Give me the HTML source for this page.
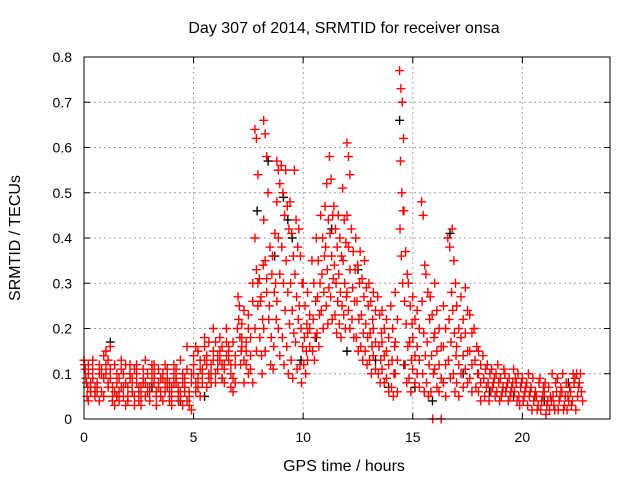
<!DOCTYPE html>
<html><head><meta charset="utf-8"><style>
html,body{margin:0;padding:0;background:#fff;}
svg{display:block;font-family:"Liberation Sans",sans-serif;}
</style></head><body>
<svg id="chart" width="640" height="480" viewBox="0 0 640 480">
<text x="344" y="33" text-anchor="middle" font-size="16">Day 307 of 2014, SRMTID for receiver onsa</text>
<text x="344" y="471" text-anchor="middle" font-size="16">GPS time / hours</text>
<text transform="translate(20,238) rotate(-90)" text-anchor="middle" font-size="16">SRMTID / TECUs</text>
<g id="grid"></g>
<g id="ticks"></g>
<g id="black"></g>
<g id="red"></g>
<rect x="84" y="57" width="526" height="362" fill="none" stroke="#000" stroke-width="1"/>
</svg>
<script>
const xTicks=[0,5,10,15,20];
const yTicks=[0,0.1,0.2,0.3,0.4,0.5,0.6,0.7,0.8];
const yTickLabels=["0","0.1","0.2","0.3","0.4","0.5","0.6","0.7","0.8"];
const slotStep=0.2;
const redVals=[
[.13,.09,.07,.11,.05,.12,.08],[.10,.06,.04,.08,.12,.07],[.09,.05,.13,.07,.11,.06],[.08,.04,.06,.10,.07,.12],[.10,.14,.06,.09,.11,.05],
[.12,.08,.15,.07,.10,.13],[.09,.05,.11,.07,.16,.04],[.06,.10,.03,.08,.12,.05],[.09,.07,.04,.11,.06,.13],[.05,.08,.10,.03,.07,.12],
[.07,.10,.05,.09,.04,.12],[.06,.11,.08,.03,.09,.05],[.10,.06,.08,.04,.12,.07],[.05,.09,.07,.11,.03,.08],[.08,.10,.05,.07,.13,.06],
[.06,.09,.04,.11,.07,.12],[.10,.05,.08,.06,.12,.03],[.07,.09,.11,.05,.08,.06],[.04,.08,.10,.06,.09,.12],[.09,.06,.11,.04,.07,.08],
[.05,.10,.07,.12,.03,.08],[.08,.06,.11,.04,.09,.07],[.06,.10,.05,.08,.13,.03],[.09,.04,.07,.11,.06,.16],[.05,.08,.03,.10,.06,.02],
[.12,.08,.14,.06,.10,.16],[.09,.13,.07,.11,.15,.05],[.11,.16,.08,.13,.10,.18],[.14,.09,.12,.17,.07,.10],[.12,.15,.10,.20,.08,.13],
[.10,.14,.17,.11,.08,.13],[.15,.12,.18,.09,.13,.16],[.11,.14,.08,.17,.12,.20],[.13,.10,.16,.07,.15,.12],[.09,.14,.06,.12,.17,.08],
[.20,.25,.15,.22,.12,.27,.18],[.18,.13,.21,.08,.16,.24],[.12,.20,.15,.10,.17,.23],[.14,.30,.11,.26,.18,.08],[.64,.62,.54,.40,.33,.25,.20,.15,.30],
[.31,.27,.22,.18,.14,.34,.26,.10],[.66,.63,.58,.44,.35,.28,.20,.15,.31],[.50,.38,.32,.25,.18,.22,.12],[.36,.28,.22,.16,.30,.11,.41],[.57,.55,.52,.48,.40,.32,.26,.20,.14],
[.56,.50,.45,.38,.30,.24,.18,.12],[.55,.47,.42,.35,.28,.21,.16,.10],[.48,.41,.36,.30,.24,.19,.13,.09],[.55,.44,.38,.32,.27,.22,.17,.11],[.42,.36,.30,.25,.20,.16,.12,.08],
[.30,.25,.21,.18,.15,.12,.10],[.28,.23,.19,.16,.13,.20],[.35,.30,.26,.22,.18,.15,.13],[.40,.35,.30,.27,.23,.19,.16],[.45,.40,.36,.32,.28,.24,.20],
[.47,.52,.44,.38,.33,.29,.25,.21],[.58,.53,.45,.41,.36,.31,.27,.22],[.47,.42,.38,.34,.30,.26,.23,.19],[.45,.40,.36,.32,.28,.25,.21,.18],[.51,.44,.39,.35,.30,.27,.23,.20],
[.61,.58,.54,.45,.38,.33,.28,.24,.20],[.42,.37,.33,.29,.26,.22,.18],[.40,.34,.30,.26,.22,.18,.15],[.37,.31,.27,.23,.19,.16,.13],[.35,.29,.25,.21,.18,.15,.12],
[.30,.26,.22,.19,.16,.13,.10],[.28,.24,.20,.17,.14,.11],[.27,.23,.19,.16,.13,.10,.08],[.24,.20,.17,.14,.11,.08],[.22,.18,.15,.12,.09,.06],
[.25,.20,.16,.13,.10,.07,.05],[.28,.22,.17,.13,.10,.06],[.77,.73,.70,.62,.57,.50,.46,.42,.36,.30],[.46,.37,.32,.26,.21,.16,.12,.08],[.30,.25,.21,.17,.13,.09,.06],
[.27,.22,.18,.14,.11,.08],[.24,.20,.16,.13,.10,.07],[.48,.45,.34,.26,.19,.14,.10,.06],[.32,.28,.22,.17,.12,.08,.05],[.27,.23,.18,.14,.10,.06,0],
[.30,.24,.19,.15,.11,.07],[.20,.16,.12,.09,.06,0],[.25,.20,.16,.12,.08,.05],[.40,.38,.28,.22,.17,.13,.09],[.42,.35,.30,.24,.19,.14,.10,.06],
[.25,.20,.16,.12,.08,.05],[.27,.22,.18,.14,.10,.07],[.29,.24,.19,.15,.11,.08],[.23,.19,.15,.12,.09,.06],[.20,.16,.13,.10,.07],
[.15,.12,.10,.08,.06,.04],[.14,.11,.09,.07,.05],[.12,.10,.08,.06,.04],[.11,.09,.07,.05,.08],[.10,.08,.06,.04,.12],
[.09,.07,.05,.11,.06],[.10,.08,.06,.04,.07],[.09,.07,.05,.08,.06],[.11,.08,.06,.04,.09],[.10,.07,.05,.08,.03],
[.09,.06,.04,.07,.05],[.08,.05,.03,.06,.10],[.07,.04,.02,.05,.09],[.06,.03,.05,.08,.02],[.09,.05,.02,.07,.04],
[.06,.03,.08,.04,.01],[.07,.04,.02,.10,.05],[.05,.08,.03,.06,.02],[.09,.05,.02,.07,.04],[.06,.03,.10,.05,.02],
[.08,.04,.02,.07,.05],[.06,.10,.03,.08,.04],[.09,.05,.02,.07,.10],[.08,.04,.06,.10]
];
const blackT=[0.3,1.2,1.5,3.1,4.4,5.5,6.3,7.9,8.4,8.7,9.1,9.3,9.5,9.9,10.6,11.3,12.0,12.5,13.3,13.9,14.4,14.6,15.1,15.9,16.4,16.7,17.3,18.5,19.6,21.0,22.1];
const blackV=[0.06,0.17,0.05,0.07,0.04,0.05,0.09,0.46,0.57,0.36,0.49,0.44,0.40,0.13,0.18,0.42,0.15,0.33,0.13,0.07,0.66,0.12,0.07,0.04,0.08,0.41,0.10,0.06,0.05,0.04,0.08];
const X=t=>84+t*(526/24);
const Y=v=>419-v*(362/0.8);
const NS="http://www.w3.org/2000/svg";
const grid=document.getElementById('grid'),ticks=document.getElementById('ticks');
function mk(tag,attrs,parent){const e=document.createElementNS(NS,tag);for(const k in attrs)e.setAttribute(k,attrs[k]);parent.appendChild(e);return e;}
yTicks.forEach((v,i)=>{
  if(v>0&&v<0.8){const g=mk('line',{x1:84,x2:610,y1:Y(v),y2:Y(v),stroke:'#a0a0a0','stroke-dasharray':'2,3'},grid);
  
  }
  mk('line',{x1:84,x2:90,y1:Y(v),y2:Y(v),stroke:'#000'},ticks);
  mk('line',{x1:604,x2:610,y1:Y(v),y2:Y(v),stroke:'#000'},ticks);
  const t=mk('text',{x:72,y:Y(v)+5,'text-anchor':'end','font-size':'14'},ticks);t.textContent=yTickLabels[i];
  
  
});
xTicks.forEach(v=>{
  if(v>0){const g=mk('line',{x1:X(v),x2:X(v),y1:57,y2:419,stroke:'#a0a0a0','stroke-dasharray':'2,3'},grid);
  
  }
  mk('line',{x1:X(v),x2:X(v),y1:413,y2:419,stroke:'#000'},ticks);
  mk('line',{x1:X(v),x2:X(v),y1:57,y2:63,stroke:'#000'},ticks);
  const t=mk('text',{x:X(v),y:442,'text-anchor':'middle','font-size':'14'},ticks);t.textContent=String(v);
  
  
});
function plus(x,y,col,parent,name){
  const p=mk('path',{d:`M${x-4.5},${y}h9M${x},${y-4.5}v9`,stroke:col,'stroke-width':'1.4',fill:'none'},parent);
  
  
}
const bg=document.getElementById('black');
blackT.forEach((t,i)=>plus(X(t),Y(blackV[i]),'#000',bg,'black-point'));
const rg=document.getElementById('red');
redVals.forEach((vals,i)=>{
  const t0=i*slotStep;const n=vals.length;
  vals.forEach((v,j)=>plus(X(t0+slotStep*((j*3)%n)/n),Y(v),'#ff0000',rg,'red-point'));
});
</script>
</body></html>
